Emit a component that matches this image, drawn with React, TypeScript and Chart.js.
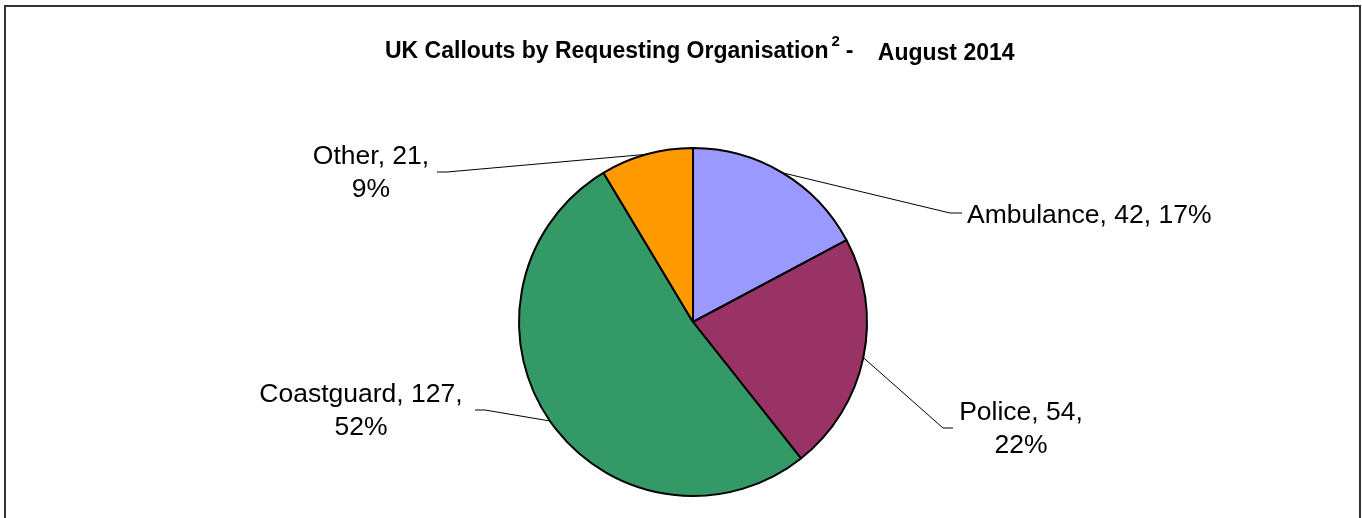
import { useEffect, useRef } from "react"
import { Chart, registerables, type ChartConfiguration, type Plugin } from "chart.js"

Chart.register(...registerables)

const categories = ["Ambulance", "Police", "Coastguard", "Other"]
const callouts = [42, 54, 127, 21]
const sliceColors = ["#9999ff", "#993366", "#339966", "#ff9900"]
// whether the percentage goes on a second line
const splitLabel = [false, true, true, true]

const titleMain = "UK Callouts by Requesting Organisation"
const titleSup = "2"
const titleDate = "August 2014"

const FONT = '"Liberation Sans", Arial, Helvetica, sans-serif'

// label block placement (anchor point of the text + leader elbow)
const labelPlaces = [
  { x: 967, y: 213, align: "left", elbowX: 950, endX: 962 },
  { x: 1021, y: 428, align: "center", elbowX: 943, endX: 953 },
  { x: 361, y: 410, align: "center", elbowX: 485, endX: 475 },
  { x: 371, y: 172, align: "center", elbowX: 447, endX: 437 },
]

const frameAndTitle: Plugin<"pie"> = {
  id: "frameAndTitle",
  beforeDraw: (chart) => {
    const ctx = chart.ctx
    ctx.save()
    // outer frame (bottom edge runs off the picture)
    ctx.strokeStyle = "#333"
    ctx.lineWidth = 2
    ctx.beginPath()
    ctx.moveTo(5, 540)
    ctx.lineTo(5, 6)
    ctx.lineTo(1360, 6)
    ctx.lineTo(1360, 540)
    ctx.stroke()

    ctx.fillStyle = "#000"
    ctx.textAlign = "left"
    ctx.textBaseline = "alphabetic"
    let x = 385
    ctx.font = `bold 23px ${FONT}`
    ctx.fillText(titleMain, x, 58)
    x += ctx.measureText(titleMain).width + 3
    ctx.font = `bold 15px ${FONT}`
    ctx.fillText(titleSup, x, 46)
    x += ctx.measureText(titleSup).width + 6
    ctx.font = `bold 23px ${FONT}`
    ctx.fillText("-", x, 58)
    ctx.fillText(titleDate, x + 32, 60)
    ctx.restore()
  },
}

const leaderLabels: Plugin<"pie"> = {
  id: "leaderLabels",
  afterDatasetsDraw: (chart) => {
    const ctx = chart.ctx
    const meta = chart.getDatasetMeta(0)
    const total = callouts.reduce((a, b) => a + b, 0)
    ctx.save()
    meta.data.forEach((el, i) => {
      const arc = el.getProps(["x", "y", "startAngle", "endAngle", "outerRadius"], true) as any
      const mid = (arc.startAngle + arc.endAngle) / 2
      const px = arc.x + Math.cos(mid) * arc.outerRadius
      const py = arc.y + Math.sin(mid) * arc.outerRadius
      const place = labelPlaces[i]

      ctx.strokeStyle = "#000"
      ctx.lineWidth = 1
      ctx.beginPath()
      ctx.moveTo(px, py)
      ctx.lineTo(place.elbowX, place.y)
      ctx.lineTo(place.endX, place.y)
      ctx.stroke()

      const pct = Math.round((callouts[i] / total) * 100) + "%"
      ctx.fillStyle = "#000"
      ctx.font = `26.5px ${FONT}`
      ctx.textBaseline = "alphabetic"
      ctx.textAlign = place.align as CanvasTextAlign
      if (splitLabel[i]) {
        ctx.fillText(`${categories[i]}, ${callouts[i]},`, place.x, place.y - 8)
        ctx.fillText(pct, place.x, place.y + 25)
      } else {
        ctx.fillText(`${categories[i]}, ${callouts[i]}, ${pct}`, place.x, place.y + 9.5)
      }
    })
    ctx.restore()
  },
}

export default function App() {
  const chartRef = useRef<HTMLCanvasElement>(null)
  const chartInstance = useRef<Chart<"pie"> | null>(null)

  useEffect(() => {
    if (!chartRef.current) return
    const ctx = chartRef.current.getContext("2d")
    if (!ctx) return

    if (chartInstance.current) {
      chartInstance.current.destroy()
    }

    const config: ChartConfiguration<"pie"> = {
      type: "pie",
      data: {
        labels: categories,
        datasets: [
          {
            data: callouts,
            backgroundColor: sliceColors,
            borderColor: "#000",
            borderWidth: 2,
            hoverOffset: 0,
          },
        ],
      },
      options: {
        responsive: false,
        animation: false,
        radius: 174,
        layout: { padding: { left: 300, right: 276, top: 150, bottom: 24 } },
        plugins: {
          legend: { display: false },
          tooltip: { enabled: false },
          title: { display: false },
        },
      },
      plugins: [frameAndTitle, leaderLabels],
    }

    chartInstance.current = new Chart(ctx, config)

    return () => {
      if (chartInstance.current) {
        chartInstance.current.destroy()
        chartInstance.current = null
      }
    }
  }, [])

  return (
    <div style={{ position: "absolute", left: 0, top: 0, width: 1362, height: 518, background: "#fff" }}>
      <canvas ref={chartRef} width={1362} height={518} />
    </div>
  )
}
